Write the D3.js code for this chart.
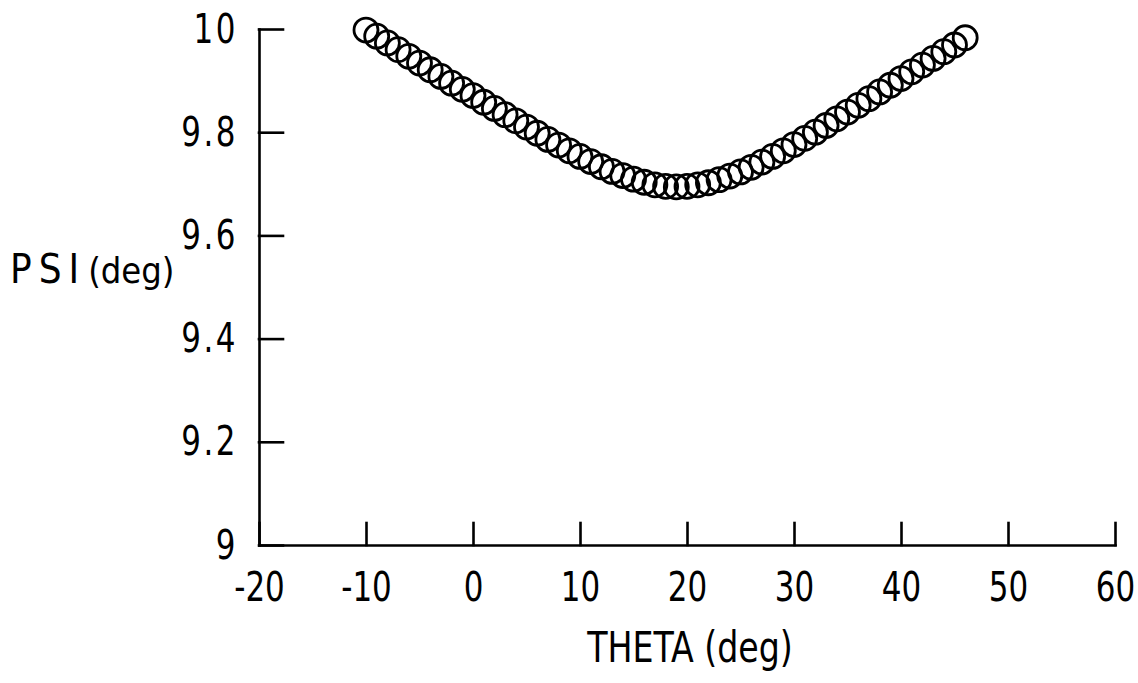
<!DOCTYPE html>
<html>
<head>
<meta charset="utf-8">
<script src="https://cdn.jsdelivr.net/npm/d3@7/dist/d3.min.js"></script>
<style>
  body { margin: 0; background: #fff; }
  svg text { font-family: "Liberation Sans Narrow", "DejaVu Sans Condensed", "Liberation Sans", sans-serif; fill: #000; }
</style>
</head>
<body>
<div id="chart"></div>
<script>

// theta (deg) of each plotted circle
var theta = [-10, -9, -8, -7, -6, -5, -4, -3, -2, -1, 0, 1, 2, 3, 4, 5, 6, 7, 8, 9,
  10, 11, 12, 13, 14, 15, 16, 17, 18, 19, 20, 21, 22, 23, 24, 25, 26, 27, 28, 29,
  30, 31, 32, 33, 34, 35, 36, 37, 38, 39, 40, 41, 42, 43, 44, 45, 46];

// psi (deg)
var psi = [9.998, 9.986, 9.973, 9.960, 9.947, 9.934, 9.921, 9.908, 9.895, 9.883,
  9.871, 9.858, 9.846, 9.834, 9.822, 9.810, 9.798, 9.786, 9.775, 9.764,
  9.753, 9.743, 9.733, 9.724, 9.716, 9.709, 9.703, 9.698, 9.695, 9.694,
  9.695, 9.698, 9.702, 9.708, 9.715, 9.723, 9.732, 9.742, 9.753, 9.764,
  9.776, 9.788, 9.800, 9.813, 9.826, 9.839, 9.852, 9.865, 9.878, 9.891,
  9.904, 9.917, 9.930, 9.943, 9.956, 9.969, 9.983];

var xTicks = [-20, -10, 0, 10, 20, 30, 40, 50, 60];
var xTickLabels = ["-20", "-10", "0", "10", "20", "30", "40", "50", "60"];
var yTicks = [9, 9.2, 9.4, 9.6, 9.8, 10];
var yTickLabels = ["9", "9.2", "9.4", "9.6", "9.8", "10"];

var width = 1138;
var height = 683;
var squeeze = 0.84;

var svg = d3.select("#chart")
  .append("svg")
  .attr("width", width)
  .attr("height", height)

var x = d3.scaleLinear().domain([-20, 60]).range([259, 1115]);
var y = d3.scaleLinear().domain([9, 10]).range([545, 29]);

var xAxis = d3.axisBottom(x)
  .tickValues(xTicks)
  .tickFormat(function(d, i) { return xTickLabels[i]; })
  .tickSizeInner(-22)
  .tickSizeOuter(0)
  .tickPadding(27)

var yAxis = d3.axisLeft(y)
  .tickValues(yTicks)
  .tickFormat(function(d, i) { return yTickLabels[i]; })
  .tickSizeInner(-24)
  .tickSizeOuter(0)
  .tickPadding(21)

var gx = svg.append("g")
  .attr("transform", "translate(0," + y(9) + ")")
  .call(xAxis)

var gy = svg.append("g")
  .attr("transform", "translate(" + x(-20) + ",0)")
  .call(yAxis)

// plain black axes like the printed figure
svg.selectAll(".domain, .tick line")
  .attr("stroke", "#000")
  .attr("stroke-width", 2.6)
  .attr("stroke-linecap", "square")

svg.selectAll(".tick text")
  .attr("font-size", 41)
  .attr("fill", "#000")

// narrow the glyphs a bit, the print uses a condensed face
gx.selectAll(".tick text")
  .attr("transform", "scale(" + squeeze + ",1)")

gy.selectAll(".tick text")
  .attr("x", 0)
  .attr("letter-spacing", 3)
  .attr("transform", "translate(-21,0) scale(" + squeeze + ",1)")

// circles
svg.append("g")
  .selectAll("circle")
  .data(theta)
  .enter()
    .append("circle")
    .attr("cx", function(d) { return x(d); })
    .attr("cy", function(d, i) { return y(psi[i]); })
    .attr("r", 12)
    .attr("fill", "none")
    .attr("stroke", "#000")
    .attr("stroke-width", 2.8)

// axis titles
svg.append("text")
  .attr("transform", "translate(690,662) scale(0.88,1)")
  .attr("text-anchor", "middle")
  .attr("font-size", 42)
  .text("THETA (deg)")

var ylab = svg.append("text")
  .attr("transform", "translate(10,283)")
  .attr("font-size", 40)

ylab.append("tspan")
  .attr("letter-spacing", 7)
  .text("PSI")

ylab.append("tspan")
  .attr("font-size", 36)
  .attr("dx", 2)
  .text("(deg)")

</script>
</body>
</html>
